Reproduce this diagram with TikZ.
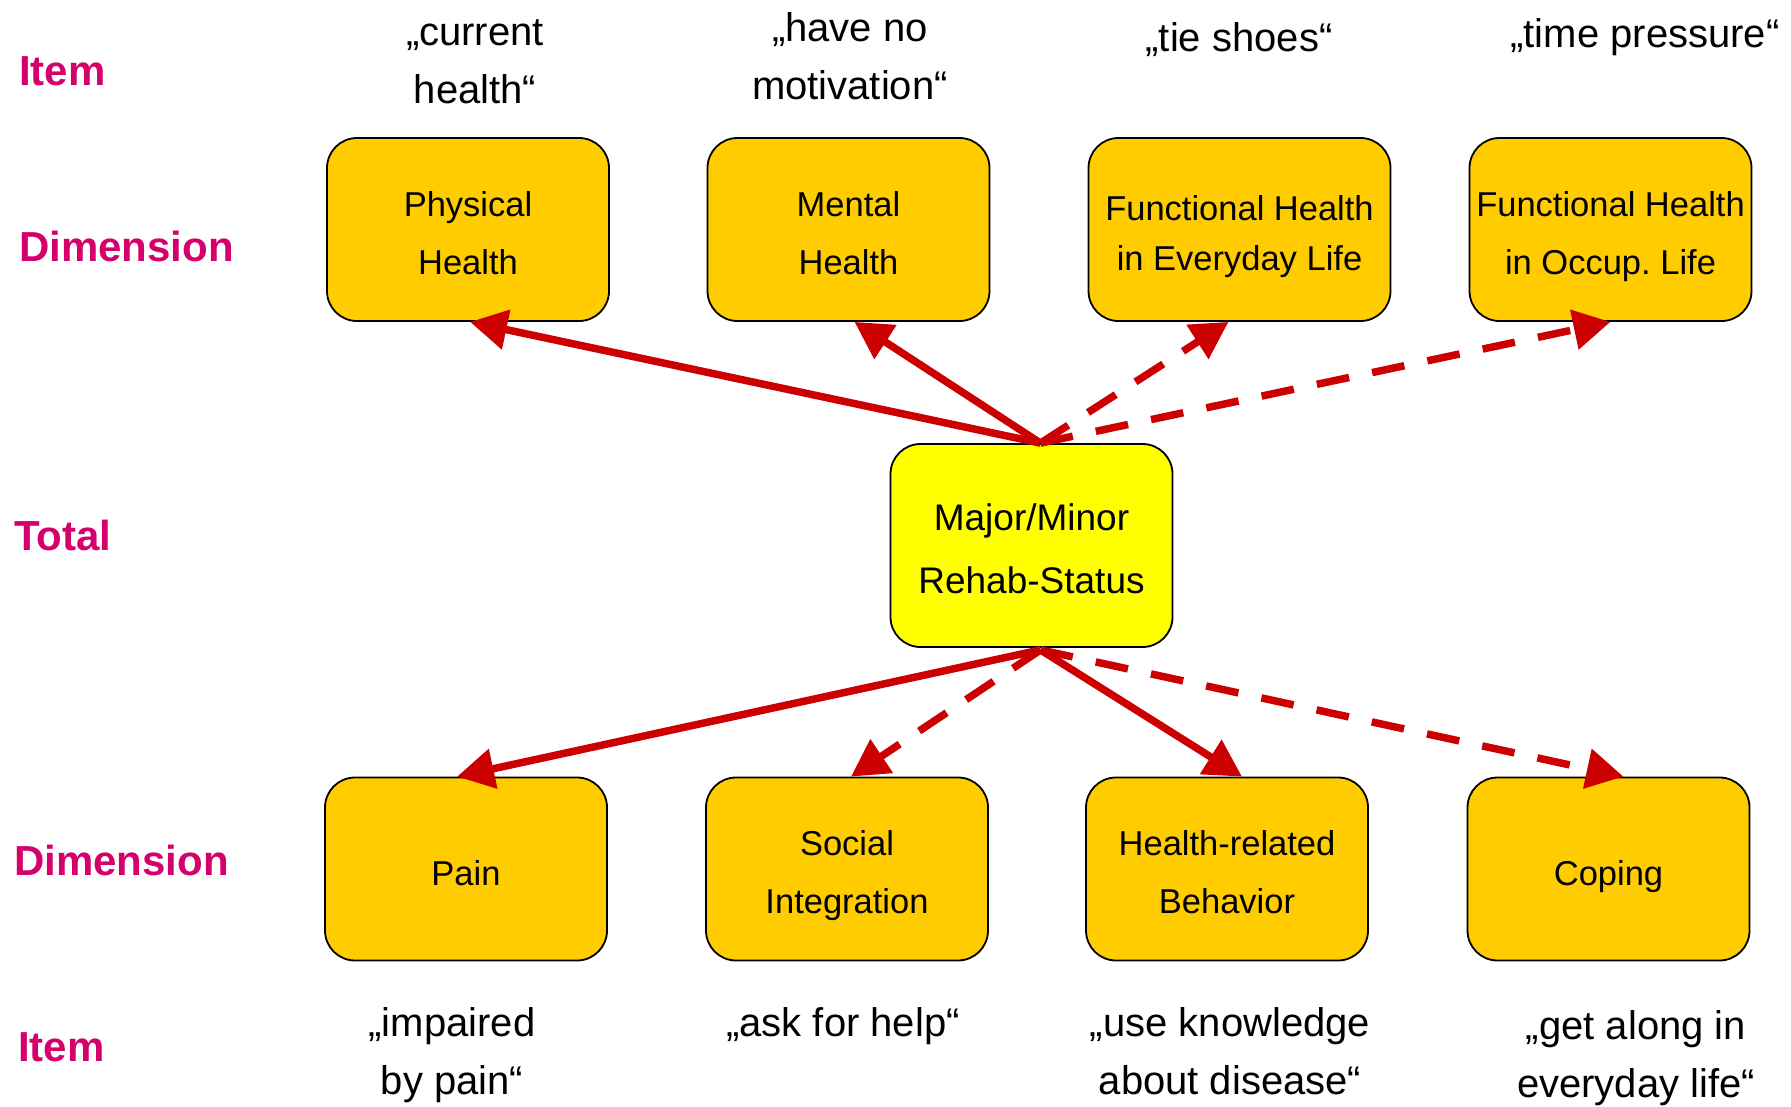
\documentclass[tikz,border=0pt]{standalone}
\usepackage{fontspec}
\setmainfont{Liberation Sans}
\usetikzlibrary{arrows.meta}

\definecolor{dimfill}{RGB}{255,204,0}
\definecolor{totalfill}{RGB}{255,255,0}
\definecolor{linkred}{RGB}{204,0,0}
\definecolor{levelmagenta}{RGB}{213,0,108}

\tikzset{
  dimbox/.style={draw=black, line width=1.8pt, fill=dimfill, rounded corners=30pt,
    minimum width=282pt, minimum height=183pt, inner sep=0pt},
  totalbox/.style={dimbox, fill=totalfill, minimum height=203pt},
  boxtext/.style={align=center, inner sep=0pt, font=\fontsize{34.5}{58}\selectfont},
  totaltext/.style={boxtext, font=\fontsize{37}{63}\selectfont},
  itemtext/.style={align=center, inner sep=0pt, font=\fontsize{40}{58}\selectfont},
  levellabel/.style={anchor=west, inner sep=0pt, text=levelmagenta,
    font=\bfseries\fontsize{42}{50}\selectfont},
  link/.style={draw=linkred, line width=7.5pt,
    -{Triangle[length=37pt,width=39pt]}},
  weaklink/.style={link, dash pattern=on 33pt off 23.5pt}
}

\begin{document}
\begin{tikzpicture}[x=1pt,y=-1pt]
  \useasboundingbox (0,0) rectangle (1791,1106);

  % level labels on the left
  \node[levellabel] (lItemTop) at (19,71) {Item};
  \node[levellabel] (lDimTop) at (19,246) {Dimension};
  \node[levellabel] (lTotal) at (14,535) {Total};
  \node[levellabel] (lDimBot) at (14,860) {Dimension};
  \node[levellabel] (lItemBot) at (18,1047) {Item};

  % example items, top row
  \node[itemtext] (iPhys) at (475,62) {„current\\health“};
  \node[itemtext] (iMent) at (850,56) {„have no\\motivation“};
  \node[itemtext] (iEvery) at (1239,39.5) {„tie shoes“};
  \node[itemtext] (iOccup) at (1645,37.5) {„time pressure“};

  % dimensions, top row
  \node[dimbox, label={[boxtext, yshift=-3.5pt]center:Physical\\Health}]
    (phys) at (468,229.5) {};
  \node[dimbox, label={[boxtext, yshift=-3.5pt]center:Mental\\Health}]
    (ment) at (848.5,229.5) {};
  \node[dimbox, minimum width=302pt,
    label={[boxtext, font=\fontsize{34.5}{50}\selectfont, yshift=-7pt]center:Functional Health\\in Everyday Life}]
    (every) at (1239.5,229.5) {};
  \node[dimbox, label={[boxtext, yshift=-7pt]center:Functional Health\\in Occup.\ Life}]
    (occup) at (1610.5,229.5) {};

  % total score
  \node[totalbox, label={[totaltext, yshift=-3.5pt]center:Major/Minor\\Rehab-Status}]
    (total) at (1031.5,545.5) {};

  % dimensions, bottom row
  \node[dimbox, label={[boxtext, yshift=-4.5pt]center:Pain}] (pain) at (466,869) {};
  \node[dimbox, label={[boxtext, yshift=-7pt]center:Social\\Integration}]
    (social) at (847,869) {};
  \node[dimbox, label={[boxtext, yshift=-3.5pt]center:Health-related\\Behavior}]
    (behav) at (1227,869) {};
  \node[dimbox, label={[boxtext, yshift=-8pt]center:Coping}] (coping) at (1608.5,869) {};

  % example items, bottom row
  \node[itemtext] (iPain) at (452,1055) {„impaired\\by pain“};
  \node[itemtext] (iSocial) at (843,1026.5) {„ask for help“};
  \node[itemtext] (iBehav) at (1230,1051) {„use knowledge\\about disease“};
  \node[itemtext] (iCoping) at (1636,1058.5) {„get along in\\everyday life“};

  % connectors from the total score
  \coordinate (ctop) at ([xshift=9pt]total.north);
  \coordinate (cbot) at ([xshift=9pt,yshift=-2pt]total.south);

  \draw[link] (ctop) -- ([xshift=2pt]phys.south);
  \draw[link] (ctop) -- ([xshift=6pt]ment.south);
  \draw[weaklink] (ctop) -- ([xshift=-11pt]every.south);
  \draw[weaklink] (ctop) -- (occup.south);

  \draw[link] (cbot) -- ([xshift=-9pt]pain.north);
  \draw[weaklink] (cbot) -- ([xshift=4pt]social.north);
  \draw[link] (cbot) -- ([xshift=15pt]behav.north);
  \draw[weaklink] (cbot) -- ([xshift=15pt]coping.north);
\end{tikzpicture}
\end{document}
